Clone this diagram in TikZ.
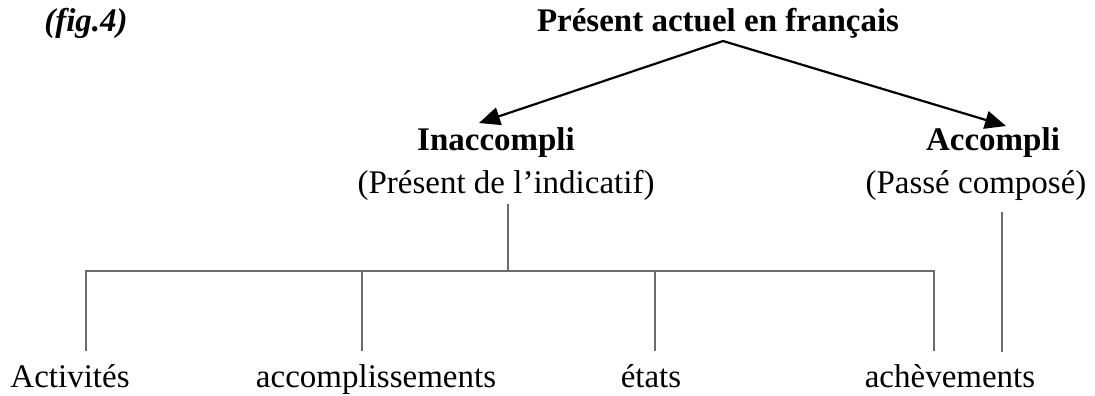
\documentclass[tikz,border=0pt]{standalone}
\usepackage{fontspec}
\setmainfont{Liberation Serif}
\usetikzlibrary{arrows.meta}
\begin{document}
\begin{tikzpicture}[x=1pt,y=-1pt,
  txt/.style={font=\fontsize{33}{38}\selectfont, inner sep=0pt, anchor=base},
  btxt/.style={txt, font=\fontsize{33}{38}\selectfont\bfseries},
  arr/.style={line width=2.2pt, black, -{Triangle[length=21pt,width=18pt]}},
  tree/.style={line width=2pt, black!58}]
\useasboundingbox (0,0) rectangle (1095,396);
% labels
\node[txt, font=\fontsize{33}{38}\selectfont\bfseries\itshape] (fig) at (86,32) {(fig.4)};
\node[btxt] (title) at (718,32) {Présent actuel en français};
\node[btxt] (inacc) at (496,150) {Inaccompli};
\node[txt] (inaccsub) at (506,193) {(Présent de l’indicatif)};
\node[btxt] (acc) at (993,150) {Accompli};
\node[txt] (accsub) at (976,193) {(Passé composé)};
\node[txt] (act) at (70,387) {Activités};
\node[txt] (accompl) at (376,387) {accomplissements};
\node[txt] (etats) at (651,387) {états};
\node[txt] (acheve) at (950,387) {achèvements};
% arrows
\coordinate (apex) at (723,41);
\coordinate (tipL) at (479,123);
\coordinate (tipR) at (1006,126);
\draw[arr] (apex) -- (tipL);
\draw[arr] (apex) -- (tipR);
% tree
\coordinate (itop) at (508,204);
\coordinate (ijoin) at (508,271);
\coordinate (h1) at (86,271);
\coordinate (h2) at (362,271);
\coordinate (h3) at (655,271);
\coordinate (h4) at (934,271);
\coordinate (b1) at (86,351);
\coordinate (b2) at (362,351);
\coordinate (b3) at (655,351);
\coordinate (b4) at (934,351);
\coordinate (atop) at (1002,212);
\coordinate (abot) at (1002,352);
\draw[tree] (itop) -- (ijoin);
\draw[tree] (b1) -- (h1) -- (h4) -- (b4);
\draw[tree] (h2) -- (b2);
\draw[tree] (h3) -- (b3);
\draw[tree] (atop) -- (abot);
\end{tikzpicture}
\end{document}
